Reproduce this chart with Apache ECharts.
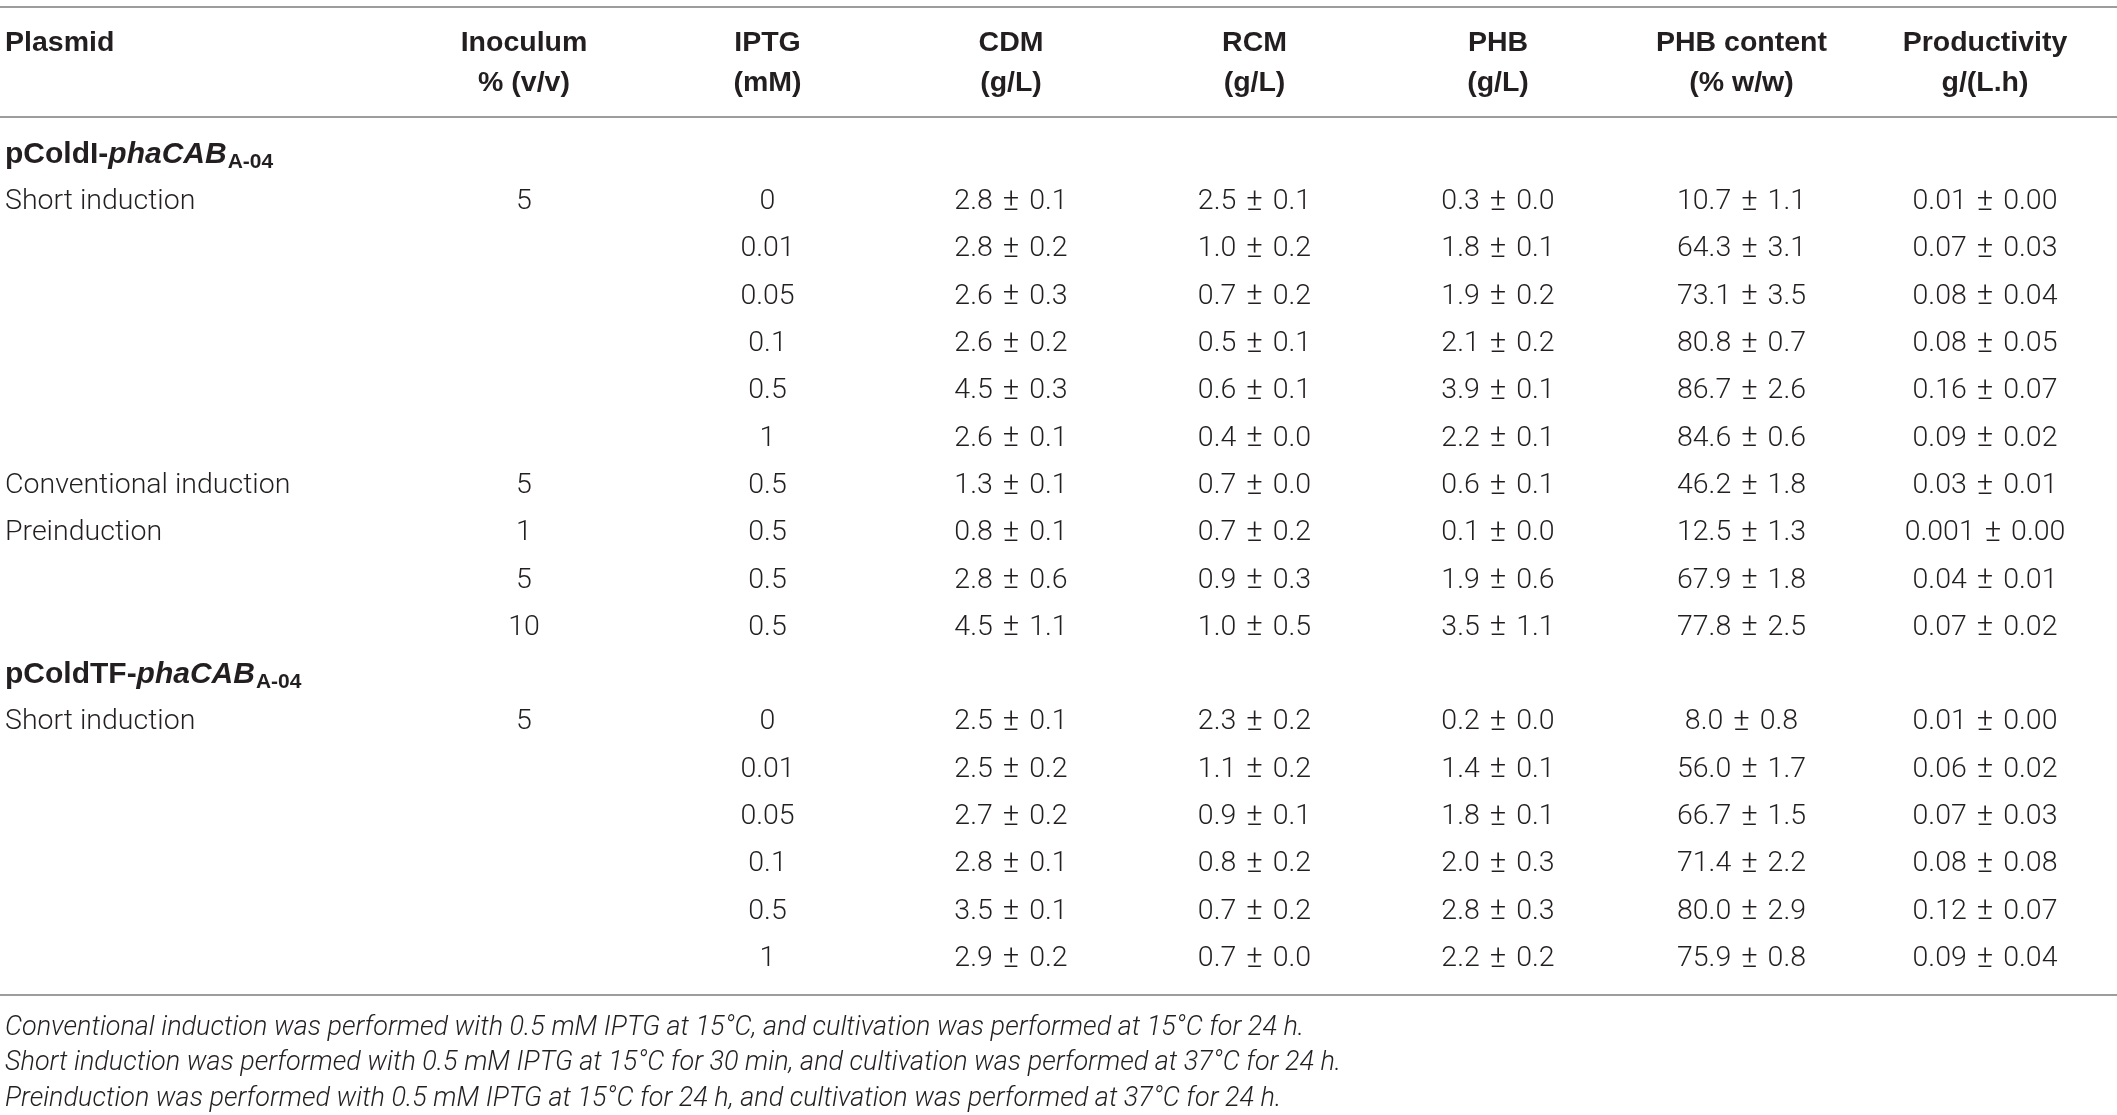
<!DOCTYPE html>
<html>
<head>
<meta charset="utf-8">
<script src="https://cdn.jsdelivr.net/npm/echarts/dist/echarts.min.js"></script>
<style>
  html, body { margin: 0; padding: 0; background: #fff; }
  #main { width: 2117px; height: 1115px; }
</style>
</head>
<body>
<div id="main"></div>
<script>
// table content
var headers = ['Plasmid', 'Inoculum\n% (v/v)', 'IPTG\n(mM)', 'CDM\n(g/L)', 'RCM\n(g/L)', 'PHB\n(g/L)', 'PHB content\n(% w/w)', 'Productivity\ng/(L.h)'];
var plasmids = [['pColdI-', 'phaCAB', 'A-04'], ['pColdTF-', 'phaCAB', 'A-04']];
var plasmidRows = [0, 11];
var conditions = ['', 'Short induction', '', '', '', '', '', 'Conventional induction', 'Preinduction', '', '', '', 'Short induction', '', '', '', '', ''];
var inoculum = ['', '5', '', '', '', '', '', '5', '1', '5', '10', '', '5', '', '', '', '', ''];
var iptg = ['', '0', '0.01', '0.05', '0.1', '0.5', '1', '0.5', '0.5', '0.5', '0.5', '', '0', '0.01', '0.05', '0.1', '0.5', '1'];
var cdm = ['', '2.8 ± 0.1', '2.8 ± 0.2', '2.6 ± 0.3', '2.6 ± 0.2', '4.5 ± 0.3', '2.6 ± 0.1', '1.3 ± 0.1', '0.8 ± 0.1', '2.8 ± 0.6', '4.5 ± 1.1', '', '2.5 ± 0.1', '2.5 ± 0.2', '2.7 ± 0.2', '2.8 ± 0.1', '3.5 ± 0.1', '2.9 ± 0.2'];
var rcm = ['', '2.5 ± 0.1', '1.0 ± 0.2', '0.7 ± 0.2', '0.5 ± 0.1', '0.6 ± 0.1', '0.4 ± 0.0', '0.7 ± 0.0', '0.7 ± 0.2', '0.9 ± 0.3', '1.0 ± 0.5', '', '2.3 ± 0.2', '1.1 ± 0.2', '0.9 ± 0.1', '0.8 ± 0.2', '0.7 ± 0.2', '0.7 ± 0.0'];
var phb = ['', '0.3 ± 0.0', '1.8 ± 0.1', '1.9 ± 0.2', '2.1 ± 0.2', '3.9 ± 0.1', '2.2 ± 0.1', '0.6 ± 0.1', '0.1 ± 0.0', '1.9 ± 0.6', '3.5 ± 1.1', '', '0.2 ± 0.0', '1.4 ± 0.1', '1.8 ± 0.1', '2.0 ± 0.3', '2.8 ± 0.3', '2.2 ± 0.2'];
var phbContent = ['', '10.7 ± 1.1', '64.3 ± 3.1', '73.1 ± 3.5', '80.8 ± 0.7', '86.7 ± 2.6', '84.6 ± 0.6', '46.2 ± 1.8', '12.5 ± 1.3', '67.9 ± 1.8', '77.8 ± 2.5', '', '8.0 ± 0.8', '56.0 ± 1.7', '66.7 ± 1.5', '71.4 ± 2.2', '80.0 ± 2.9', '75.9 ± 0.8'];
var productivity = ['', '0.01 ± 0.00', '0.07 ± 0.03', '0.08 ± 0.04', '0.08 ± 0.05', '0.16 ± 0.07', '0.09 ± 0.02', '0.03 ± 0.01', '0.001 ± 0.00', '0.04 ± 0.01', '0.07 ± 0.02', '', '0.01 ± 0.00', '0.06 ± 0.02', '0.07 ± 0.03', '0.08 ± 0.08', '0.12 ± 0.07', '0.09 ± 0.04'];
var footnotes = [
  'Conventional induction was performed with 0.5 mM IPTG at 15°C, and cultivation was performed at 15°C for 24 h.',
  'Short induction was performed with 0.5 mM IPTG at 15°C for 30 min, and cultivation was performed at 37°C for 24 h.',
  'Preinduction was performed with 0.5 mM IPTG at 15°C for 24 h, and cultivation was performed at 37°C for 24 h.'
];

var W = 2117, H = 1115;
var colStart = 524, colStep = 243.5;   // px of column 1 and spacing
var rowStart = 202, rowStep = 47.3;    // px of row 1 and spacing
function rowAt(px) { return 1 + (px - rowStart) / rowStep; }

var font = 'Roboto, "Liberation Sans", Arial, sans-serif';
var headFont = '"Liberation Sans Narrow", "Liberation Sans", Arial, sans-serif';
var boldFont = 'Arial, "Liberation Sans", sans-serif';
var ink = '#231f20';

// cells: [col, row, kind, text]
var cells = [];
headers.forEach(function (h, c) { cells.push([c, rowAt(23), 'head', h]); });
plasmidRows.forEach(function (r, i) { cells.push([0, r, 'plasmid', plasmids[i]]); });
var cols = [conditions, inoculum, iptg, cdm, rcm, phb, phbContent, productivity];
cols.forEach(function (arr, c) {
  arr.forEach(function (t, r) { if (t) cells.push([c, r, 'body', t]); });
});
footnotes.forEach(function (t, i) { cells.push([0, rowAt(1028 + i * 35.5), 'note', t]); });

function bodyText(t) {
  var parts = t.split(' ± ');
  if (parts.length < 2) return '{n|' + t + '}';
  return '{n|' + parts[0] + '}{pm|±}{n|' + parts[1] + '}';
}

var chart = echarts.init(document.getElementById('main'));
chart.setOption({
  backgroundColor: '#fff',
  animation: false,
  grid: { left: 0, right: 0, top: 0, bottom: 0 },
  xAxis: { type: 'value', min: 1 - colStart / colStep, max: 1 - colStart / colStep + W / colStep, show: false },
  yAxis: { type: 'value', inverse: true, min: rowAt(0), max: rowAt(H), show: false },
  series: [{
    type: 'custom',
    silent: true,
    clip: false,
    data: cells.map(function (c) { return [c[0], c[1]]; }),
    renderItem: function (params, api) {
      var cell = cells[params.dataIndex];
      var p = api.coord([cell[0], cell[1]]);
      var left = cell[0] === 0;
      var x = left ? params.coordSys.x + 5 : p[0];
      var style;
      if (cell[2] === 'head') {
        style = { text: cell[3], fill: ink, fontFamily: headFont, fontWeight: 'bold', fontSize: 28.5,
          lineHeight: 40, align: left ? 'left' : 'center', verticalAlign: 'top' };
      } else if (cell[2] === 'plasmid') {
        var pl = cell[3];
        style = {
          text: '{b|' + pl[0] + '}{bi|' + pl[1] + '}{s|' + pl[2] + '}',
          align: 'left', verticalAlign: 'middle',
          rich: {
            b: { fill: ink, fontFamily: boldFont, fontWeight: 'bold', fontSize: 30 },
            bi: { fill: ink, fontFamily: boldFont, fontWeight: 'bold', fontStyle: 'italic', fontSize: 30 },
            s: { fill: ink, fontFamily: boldFont, fontWeight: 'bold', fontSize: 21, padding: [15, 0, 0, 1] }
          }
        };
      } else if (cell[2] === 'note') {
        style = { text: cell[3], fill: ink, fontFamily: font, fontWeight: 300, fontStyle: 'italic', fontSize: 27,
          align: 'left', verticalAlign: 'middle' };
      } else {
        style = {
          text: bodyText(cell[3]),
          align: left ? 'left' : 'center', verticalAlign: 'middle',
          rich: {
            n: { fill: ink, fontFamily: font, fontWeight: 300, fontSize: 28.5 },
            pm: { fill: ink, fontFamily: font, fontWeight: 300, fontSize: 31, padding: [0, 10, 0, 10] }
          }
        };
      }
      return { type: 'text', x: x, y: p[1], style: style };
    },
    markLine: {
      silent: true,
      symbol: 'none',
      label: { show: false },
      lineStyle: { color: '#9d9d9d', width: 2, type: 'solid' },
      data: [{ yAxis: rowAt(7) }, { yAxis: rowAt(117) }, { yAxis: rowAt(995) }]
    }
  }]
});
</script>
</body>
</html>
